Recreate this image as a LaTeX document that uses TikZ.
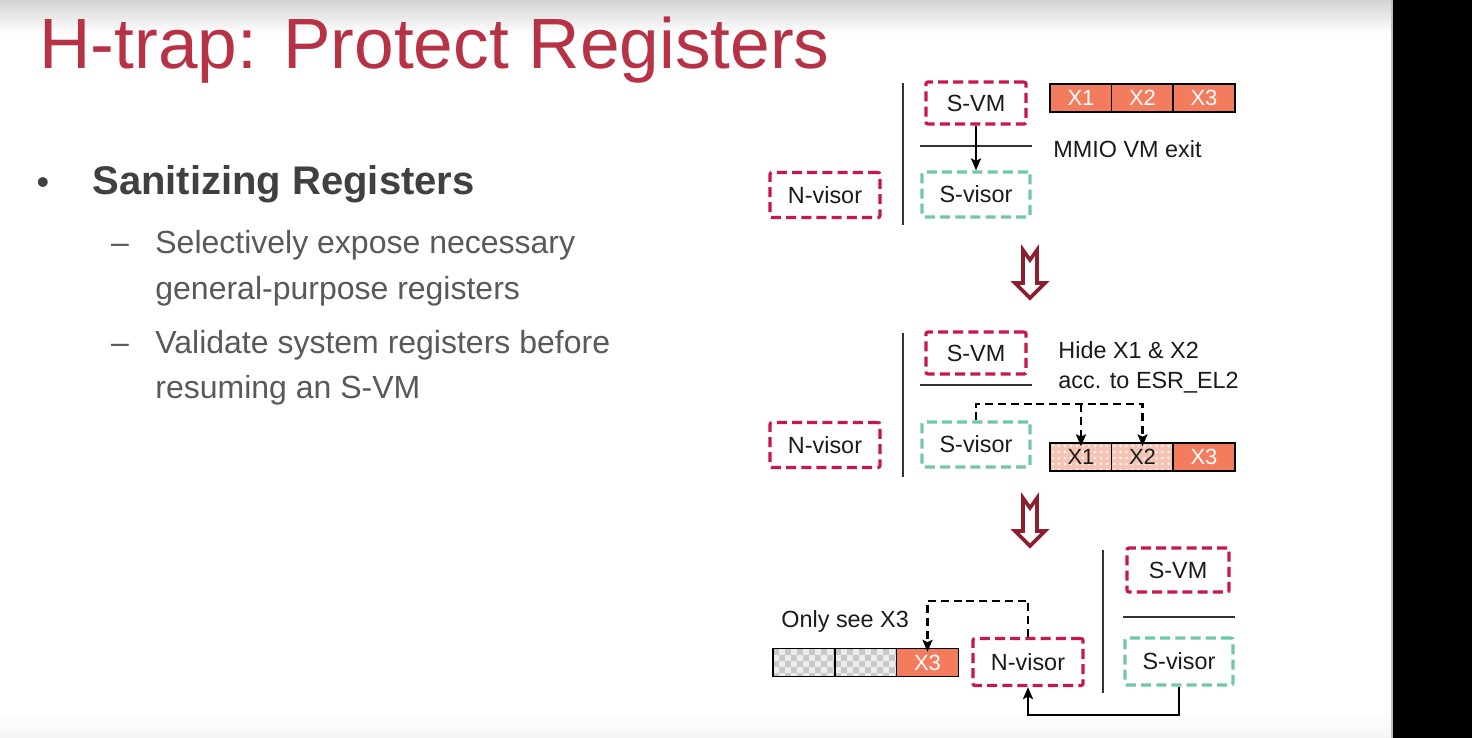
\documentclass[tikz,border=0pt]{standalone}
\usepackage{fontspec}
\setmainfont{Liberation Sans}
\usetikzlibrary{arrows.meta,calc}

\definecolor{titlered}{RGB}{184,50,70}
\definecolor{crimson}{RGB}{200,24,74}
\definecolor{teal}{RGB}{112,200,168}
\definecolor{salmon}{RGB}{243,124,94}
\definecolor{palesalmon}{RGB}{246,196,180}
\definecolor{checkgray}{RGB}{200,200,200}
\definecolor{checklight}{RGB}{236,236,236}
\definecolor{boldgray}{RGB}{64,64,64}
\definecolor{bodygray}{RGB}{89,89,89}
\definecolor{arrowred}{RGB}{140,32,48}
\definecolor{inktext}{RGB}{26,26,26}

\tikzset{
  lbl/.style={font=\fontsize{11.7pt}{14pt}\selectfont, text=inktext},
  dbox/.style={lbl, draw, line width=1.6pt, dash pattern=on 5pt off 2.6pt,
    rounded corners=1pt, inner sep=0pt},
  vmbox/.style={dbox, draw=crimson},
  svbox/.style={dbox, draw=teal},
  reg/.style={draw=black, line width=0.7pt, inner sep=0pt,
    minimum width=31pt, minimum height=14pt,
    font=\fontsize{11pt}{12pt}\selectfont},
  hot/.style={reg, fill=salmon, text=white},
  hidden/.style={reg, fill=palesalmon, text=inktext,
    path picture={
      \foreach \i in {0,...,10}
        \foreach \j in {0,...,4}
          \fill[white!85!palesalmon]
            ($(path picture bounding box.north west)+(\i*6+3,\j*6+3)$) circle (0.65pt);
    }},
  masked/.style={reg, fill=checklight,
    path picture={
      \foreach \i in {0,...,10}
        \foreach \j in {0,...,4} {
          \pgfmathtruncatemacro\parity{mod(\i+\j,2)}
          \ifnum\parity=0
            \fill[checkgray]
              ($(path picture bounding box.north west)+(\i*6,\j*6)$) rectangle ++(6,6);
          \fi
        }
    }},
  sep/.style={line width=0.8pt, draw=black!80},
  conn/.style={line width=1.1pt, draw=black, -{Stealth[length=6pt,width=5pt,inset=1.2pt]}},
  dconn/.style={conn, dash pattern=on 4pt off 2.4pt},
  bigarrow/.style={draw=arrowred, line width=1.8pt, fill=white, line join=miter},
  note/.style={font=\fontsize{11.7pt}{14pt}\selectfont, text=inktext,
    anchor=base west, inner sep=0pt},
  body/.style={font=\fontsize{16pt}{19pt}\selectfont, text=bodygray,
    anchor=base west, inner sep=0pt},
}

\begin{document}
\begin{tikzpicture}[x=0.5pt,y=-0.5pt]
\useasboundingbox (0,0) rectangle (1472,738);

% slide background with soft top and bottom edges, black frame on the right
\fill[white] (0,0) rectangle (1393,738);
\shade[top color=black!17, bottom color=white] (0,0) rectangle (1393,34);
\shade[top color=white, bottom color=black!4] (0,712) rectangle (1393,738);
\fill[black] (1393,0) rectangle (1472,738);
\draw[black!25, line width=0.8pt] (1392,0) -- (1392,738);

% title
\node[anchor=base west, inner sep=0pt, text=titlered,
      font=\fontsize{35.6pt}{40pt}\selectfont] (title) at (39,69) {H-trap: Protect Registers};

% bullet list
\node[anchor=base, inner sep=0pt, text=boldgray,
      font=\fontsize{18pt}{20pt}\selectfont] (dot) at (43,194) {•};
\node[anchor=base west, inner sep=0pt, text=boldgray,
      font=\fontsize{20pt}{24pt}\selectfont\bfseries] (head) at (92,194) {Sanitizing Registers};
\node[body, anchor=base] (dashA) at (120,253) {–};
\node[body] (lineA1) at (155,253) {Selectively expose necessary};
\node[body] (lineA2) at (155,299) {general-purpose registers};
\node[body, anchor=base] (dashB) at (120,353) {–};
\node[body] (lineB1) at (155,353) {Validate system registers before};
\node[body] (lineB2) at (155,398) {resuming an S-VM};

% ---- step 1: MMIO exit traps into the S-visor ----
\coordinate (v1t) at (903,83);  \coordinate (v1b) at (903,225);
\draw[sep] (v1t) -- (v1b);
\coordinate (h1l) at (920,146); \coordinate (h1r) at (1032,146);
\draw[sep] (h1l) -- (h1r);
\node[vmbox, minimum width=50pt, minimum height=21pt] (svm1) at (976,103) {S-VM};
\node[svbox, minimum width=54pt, minimum height=22.5pt] (sv1) at (976,194.5) {S-visor};
\node[vmbox, minimum width=55pt, minimum height=22.5pt] (nv1) at (825,195) {N-visor};
\node[hot] (r1a) at (1081,98) {X1};
\node[hot] (r1b) at (1142.5,98) {X2};
\node[hot] (r1c) at (1204,98) {X3};
\draw[conn] (svm1.south) -- (sv1.north);
\node[note] (mmio) at (1053,157) {MMIO VM exit};

% arrow to step 2
\draw[bigarrow] (1023,250) -- (1030,260) -- (1037,250) -- (1037,283) -- (1045,283)
  -- (1030,298) -- (1015,283) -- (1023,283) -- cycle;

% ---- step 2: S-visor hides X1 and X2 ----
\coordinate (v2t) at (903,333);  \coordinate (v2b) at (903,477);
\draw[sep] (v2t) -- (v2b);
\coordinate (h2l) at (920,385); \coordinate (h2r) at (1032,385);
\draw[sep] (h2l) -- (h2r);
\node[vmbox, minimum width=50pt, minimum height=21pt] (svm2) at (976,353) {S-VM};
\node[svbox, minimum width=54pt, minimum height=22.5pt] (sv2) at (976,444.5) {S-visor};
\node[vmbox, minimum width=55pt, minimum height=22.5pt] (nv2) at (825,445) {N-visor};
\node[hidden] (r2a) at (1081,457) {X1};
\node[hidden] (r2b) at (1142.5,457) {X2};
\node[hot] (r2c) at (1204,457) {X3};
\node[note] (hide1) at (1058,358) {Hide X1 \& X2};
\node[note] (hide2) at (1058,388) {acc. to ESR\_EL2};
\coordinate (hb) at (976,404);
\draw[dconn] (sv2.north) -- (hb) -| ([yshift=-2]r2b.north);
\draw[dconn] (r2a.north |- hb) -- ([yshift=-2]r2a.north);

% arrow to step 3
\draw[bigarrow] (1023,498) -- (1030,508) -- (1037,498) -- (1037,531) -- (1045,531)
  -- (1030,546) -- (1015,531) -- (1023,531) -- cycle;

% ---- step 3: N-visor only sees X3 ----
\coordinate (v3t) at (1103,550);  \coordinate (v3b) at (1103,693);
\draw[sep] (v3t) -- (v3b);
\coordinate (h3l) at (1123,617); \coordinate (h3r) at (1235,617);
\draw[sep] (h3l) -- (h3r);
\node[vmbox, minimum width=51pt, minimum height=22pt] (svm3) at (1178,570) {S-VM};
\node[svbox, minimum width=54pt, minimum height=23.5pt] (sv3) at (1179,661.5) {S-visor};
\node[vmbox, minimum width=55pt, minimum height=23.5pt] (nv3) at (1028,662) {N-visor};
\node[masked] (r3a) at (804,662.5) {};
\node[masked] (r3b) at (866,662.5) {};
\node[hot] (r3c) at (927.5,662.5) {X3};
\node[note] (only) at (781,627) {Only see X3};
\draw[dconn] (nv3.north) -- ++(0,-36) -| ([yshift=-2]r3c.north);
\draw[conn] (sv3.south) -- ++(0,28) -| (nv3.south);

\end{tikzpicture}
\end{document}
